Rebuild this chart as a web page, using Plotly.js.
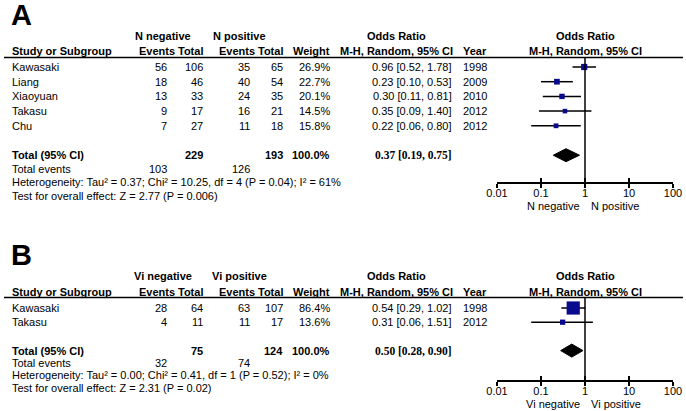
<!DOCTYPE html>
<html>
<head>
<meta charset="utf-8">
<script src="https://cdn.plot.ly/plotly-3.0.1.min.js"></script>
<style>
  html, body { margin: 0; padding: 0; background: #fff; }
  #chart { width: 686px; height: 411px; }
</style>
</head>
<body>
<div id="chart"></div>
<script>
// ---- Panel A: N negative vs N positive ----
const studiesA = ['Kawasaki', 'Liang', 'Xiaoyuan', 'Takasu', 'Chu'];
const evNegA = [56, 18, 13, 9, 7];
const totNegA = [106, 46, 33, 17, 27];
const evPosA = [35, 40, 24, 16, 11];
const totPosA = [65, 54, 35, 21, 18];
const weightA = [26.9, 22.7, 20.1, 14.5, 15.8];
const orA = [0.96, 0.23, 0.30, 0.35, 0.22];
const loA = [0.52, 0.10, 0.11, 0.09, 0.06];
const hiA = [1.78, 0.53, 0.81, 1.40, 0.80];
const yearA = [1998, 2009, 2010, 2012, 2012];
const totalA = [229, 193];           // total negative, total positive
const eventsA = [103, 126];          // total events
const pooledA = [0.37, 0.19, 0.75];  // OR, lower, upper
const hetA = 'Heterogeneity: Tau² = 0.37; Chi² = 10.25, df = 4 (P = 0.04); I² = 61%';
const testA = 'Test for overall effect: Z = 2.77 (P = 0.006)';
const groupsA = ['N negative', 'N positive'];

// ---- Panel B: Vi negative vs Vi positive ----
const studiesB = ['Kawasaki', 'Takasu'];
const evNegB = [28, 4];
const totNegB = [64, 11];
const evPosB = [63, 11];
const totPosB = [107, 17];
const weightB = [86.4, 13.6];
const orB = [0.54, 0.31];
const loB = [0.29, 0.06];
const hiB = [1.02, 1.51];
const yearB = [1998, 2012];
const totalB = [75, 124];
const eventsB = [32, 74];
const pooledB = [0.50, 0.28, 0.90];
const hetB = 'Heterogeneity: Tau² = 0.00; Chi² = 0.41, df = 1 (P = 0.52); I² = 0%';
const testB = 'Test for overall effect: Z = 2.31 (P = 0.02)';
const groupsB = ['Vi negative', 'Vi positive'];

const tickVals = [0.01, 0.1, 1, 10, 100];
const tickText = ['0.01', '0.1', '1', '10', '100'];

// ---- geometry (pixels) ----
const W = 686, H = 411;
const FONT = '"Liberation Sans", Arial, sans-serif';
const SERIF = '"Liberation Serif", "Times New Roman", serif';
const px = x => x / W;
const py = y => 1 - y / H;

const COL = {
    study: 12, evNeg: 167, totNeg: 203, evPos: 250, totPos: 283, weight: 330,
    hEvNeg: 175, hEvPos: 255, grpNeg: 163, grpPos: 239,
    or: 452, orHead: 396, year: 463
};

const geoA = { letter: 'A', letterY: 15, groupY: 36, headY: 51, ruleY: 57.5, row0: 67, step: 14.7,
    footY: [168.5, 182, 195.5], axisY: 182, top: 0, bottom: 211, sq: 1.2 };
const geoB = { letter: 'B', letterY: 255, groupY: 276, headY: 291.5, ruleY: 297.5, row0: 308, step: 14.2,
    footY: [362.5, 375, 387.5], axisY: 380, top: 213, bottom: 411, sq: 1.42 };

function txt(x, y, text, opts = {}) {
    return Object.assign({
        xref: 'paper', yref: 'paper', x: px(x), y: py(y), text: text,
        showarrow: false, xanchor: 'left', yanchor: 'middle',
        borderpad: 0, borderwidth: 0,
        font: { family: FONT, size: 11, color: '#000' }
    }, opts);
}

const fmt = v => v.toFixed(2);

function buildPanel(g, xa, ya, d) {
    const traces = [];
    const ann = [];
    const shapes = [];
    const n = d.studies.length;
    const rows = d.studies.map((_, i) => i);
    const totalRow = n + 1;
    const rowY = r => g.row0 + r * g.step;

    // headers
    ann.push(txt(11, g.letterY, '<b>' + g.letter + '</b>', { font: { family: FONT, size: 29, color: '#000' } }));
    ann.push(txt(COL.grpNeg, g.groupY, '<b>' + d.groups[0] + '</b>', { xanchor: 'center' }));
    ann.push(txt(COL.grpPos, g.groupY, '<b>' + d.groups[1] + '</b>', { xanchor: 'center' }));
    ann.push(txt(COL.orHead, g.groupY, '<b>Odds Ratio</b>', { xanchor: 'center' }));
    ann.push(txt(COL.study, g.headY, '<b>Study or Subgroup</b>'));
    ann.push(txt(COL.hEvNeg, g.headY, '<b>Events</b>', { xanchor: 'right' }));
    ann.push(txt(COL.totNeg, g.headY, '<b>Total</b>', { xanchor: 'right' }));
    ann.push(txt(COL.hEvPos, g.headY, '<b>Events</b>', { xanchor: 'right' }));
    ann.push(txt(COL.totPos, g.headY, '<b>Total</b>', { xanchor: 'right' }));
    ann.push(txt(COL.weight, g.headY, '<b>Weight</b>', { xanchor: 'right' }));
    ann.push(txt(COL.orHead, g.headY, '<b>M-H, Random, 95% CI</b>', { xanchor: 'center' }));
    ann.push(txt(COL.year, g.headY, '<b>Year</b>'));
    ann.push(txt(0, g.groupY, '<b>Odds Ratio</b>', { xref: xa, x: 0, xanchor: 'center' }));
    ann.push(txt(0, g.headY, '<b>M-H, Random, 95% CI</b>', { xref: xa, x: 0, xanchor: 'center' }));

    // study rows
    rows.forEach(i => {
        const y = rowY(i);
        ann.push(txt(COL.study, y, d.studies[i]));
        ann.push(txt(COL.evNeg, y, String(d.evNeg[i]), { xanchor: 'right' }));
        ann.push(txt(COL.totNeg, y, String(d.totNeg[i]), { xanchor: 'right' }));
        ann.push(txt(COL.evPos, y, String(d.evPos[i]), { xanchor: 'right' }));
        ann.push(txt(COL.totPos, y, String(d.totPos[i]), { xanchor: 'right' }));
        ann.push(txt(COL.weight, y, d.weight[i].toFixed(1) + '%', { xanchor: 'right' }));
        ann.push(txt(COL.or, y, `${fmt(d.or[i])} [${fmt(d.lo[i])}, ${fmt(d.hi[i])}]`, { xanchor: 'right' }));
        ann.push(txt(COL.year, y, String(d.year[i])));
    });

    // total row
    const ty = rowY(totalRow);
    ann.push(txt(COL.study, ty, '<b>Total (95% CI)</b>'));
    ann.push(txt(COL.totNeg, ty, '<b>' + d.total[0] + '</b>', { xanchor: 'right' }));
    ann.push(txt(COL.totPos, ty, '<b>' + d.total[1] + '</b>', { xanchor: 'right' }));
    ann.push(txt(COL.weight, ty, '<b>100.0%</b>', { xanchor: 'right' }));
    ann.push(txt(COL.or, ty, `<b>${fmt(d.pooled[0])} [${fmt(d.pooled[1])}, ${fmt(d.pooled[2])}]</b>`,
        { xanchor: 'right', font: { family: SERIF, size: 11.5, color: '#000' } }));

    // footer
    ann.push(txt(COL.study, g.footY[0], 'Total events'));
    ann.push(txt(COL.evNeg, g.footY[0], String(d.events[0]), { xanchor: 'right' }));
    ann.push(txt(COL.evPos, g.footY[0], String(d.events[1]), { xanchor: 'right' }));
    ann.push(txt(COL.study, g.footY[1], d.het));
    ann.push(txt(COL.study, g.footY[2], d.test));

    // axis side labels
    const labY = g.axisY + 24;
    ann.push(txt(0, labY, d.groups[0], { xref: xa, x: 0, xanchor: 'right', xshift: -5 }));
    ann.push(txt(0, labY, d.groups[1], { xref: xa, x: 0, xanchor: 'left', xshift: 6 }));

    // header rule and line of no effect
    shapes.push({ type: 'line', xref: 'paper', yref: 'paper', x0: px(4), x1: px(683),
        y0: py(g.ruleY), y1: py(g.ruleY), line: { color: '#000', width: 1.5 } });
    shapes.push({ type: 'line', xref: xa, yref: 'paper', x0: 1, x1: 1,
        y0: py(g.axisY), y1: py(g.ruleY), line: { color: '#000', width: 1.5 } });

    // CIs and weighted squares
    traces.push({
        type: 'scatter', mode: 'markers', xaxis: xa, yaxis: ya,
        x: d.or, y: rows,
        error_x: {
            type: 'data', symmetric: false,
            array: d.or.map((v, i) => d.hi[i] - v),
            arrayminus: d.or.map((v, i) => v - d.lo[i]),
            width: 0, thickness: 1.5, color: '#000'
        },
        marker: { symbol: 'square', color: '#0a0a8c', opacity: 1,
            size: d.weight.map(w => Math.sqrt(w) * g.sq), line: { width: 0, color: '#0a0a8c' } },
        hoverinfo: 'skip'
    });

    // pooled diamond
    const h = 6.5 / g.step;
    const [po, pl, ph] = d.pooled;
    traces.push({
        type: 'scatter', mode: 'lines', xaxis: xa, yaxis: ya,
        x: [pl, po, ph, po, pl],
        y: [totalRow, totalRow - h, totalRow, totalRow + h, totalRow],
        fill: 'toself', fillcolor: '#000', line: { color: '#000', width: 1 },
        hoverinfo: 'skip'
    });

    return { traces, ann, shapes };
}

function axisX(g) {
    return {
        type: 'log', range: [-2, 2], domain: [px(497), px(673)],
        anchor: 'free', position: py(g.axisY),
        showline: true, linecolor: '#000', linewidth: 1.5,
        ticks: 'outside', ticklen: 4, tickwidth: 1.5, tickcolor: '#000',
        tickvals: tickVals, ticktext: tickText, ticklabelstandoff: -4,
        tickfont: { family: FONT, size: 11, color: '#000' },
        showgrid: false, zeroline: false, fixedrange: true
    };
}

function overlayX(base, g) {
    return {
        type: 'log', range: [-2, 2], overlaying: base,
        anchor: 'free', position: py(g.axisY),
        ticks: 'inside', ticklen: 4, tickwidth: 1.5, tickcolor: '#000',
        tickvals: tickVals, showticklabels: false,
        showline: false, showgrid: false, zeroline: false, fixedrange: true
    };
}

function axisY(g) {
    return {
        domain: [py(g.bottom), py(g.top)],
        range: [(g.bottom - g.row0) / g.step, (g.top - g.row0) / g.step],
        visible: false, fixedrange: true
    };
}

const pA = buildPanel(geoA, 'x', 'y', {
    studies: studiesA, evNeg: evNegA, totNeg: totNegA, evPos: evPosA, totPos: totPosA,
    weight: weightA, or: orA, lo: loA, hi: hiA, year: yearA, total: totalA, events: eventsA,
    pooled: pooledA, het: hetA, test: testA, groups: groupsA
});
const pB = buildPanel(geoB, 'x2', 'y2', {
    studies: studiesB, evNeg: evNegB, totNeg: totNegB, evPos: evPosB, totPos: totPosB,
    weight: weightB, or: orB, lo: loB, hi: hiB, year: yearB, total: totalB, events: eventsB,
    pooled: pooledB, het: hetB, test: testB, groups: groupsB
});

// invisible traces so the overlay tick axes get drawn
const ghost = (xa, ya, x) => ({ type: 'scatter', mode: 'markers', xaxis: xa, yaxis: ya,
    x: x, y: x.map(() => 0), marker: { opacity: 0 }, hoverinfo: 'skip' });

const data = [...pA.traces, ...pB.traces, ghost('x3', 'y', orA), ghost('x4', 'y2', orB)];

const layout = {
    width: W, height: H,
    margin: { l: 0, r: 0, t: 0, b: 0 },
    paper_bgcolor: '#fff', plot_bgcolor: 'rgba(0,0,0,0)',
    showlegend: false,
    font: { family: FONT, size: 11, color: '#000' },
    xaxis: axisX(geoA), xaxis3: overlayX('x', geoA), yaxis: axisY(geoA),
    xaxis2: axisX(geoB), xaxis4: overlayX('x2', geoB), yaxis2: axisY(geoB),
    shapes: [...pA.shapes, ...pB.shapes],
    annotations: [...pA.ann, ...pB.ann]
};

Plotly.newPlot('chart', data, layout, { displayModeBar: false, staticPlot: true });
</script>
</body>
</html>
